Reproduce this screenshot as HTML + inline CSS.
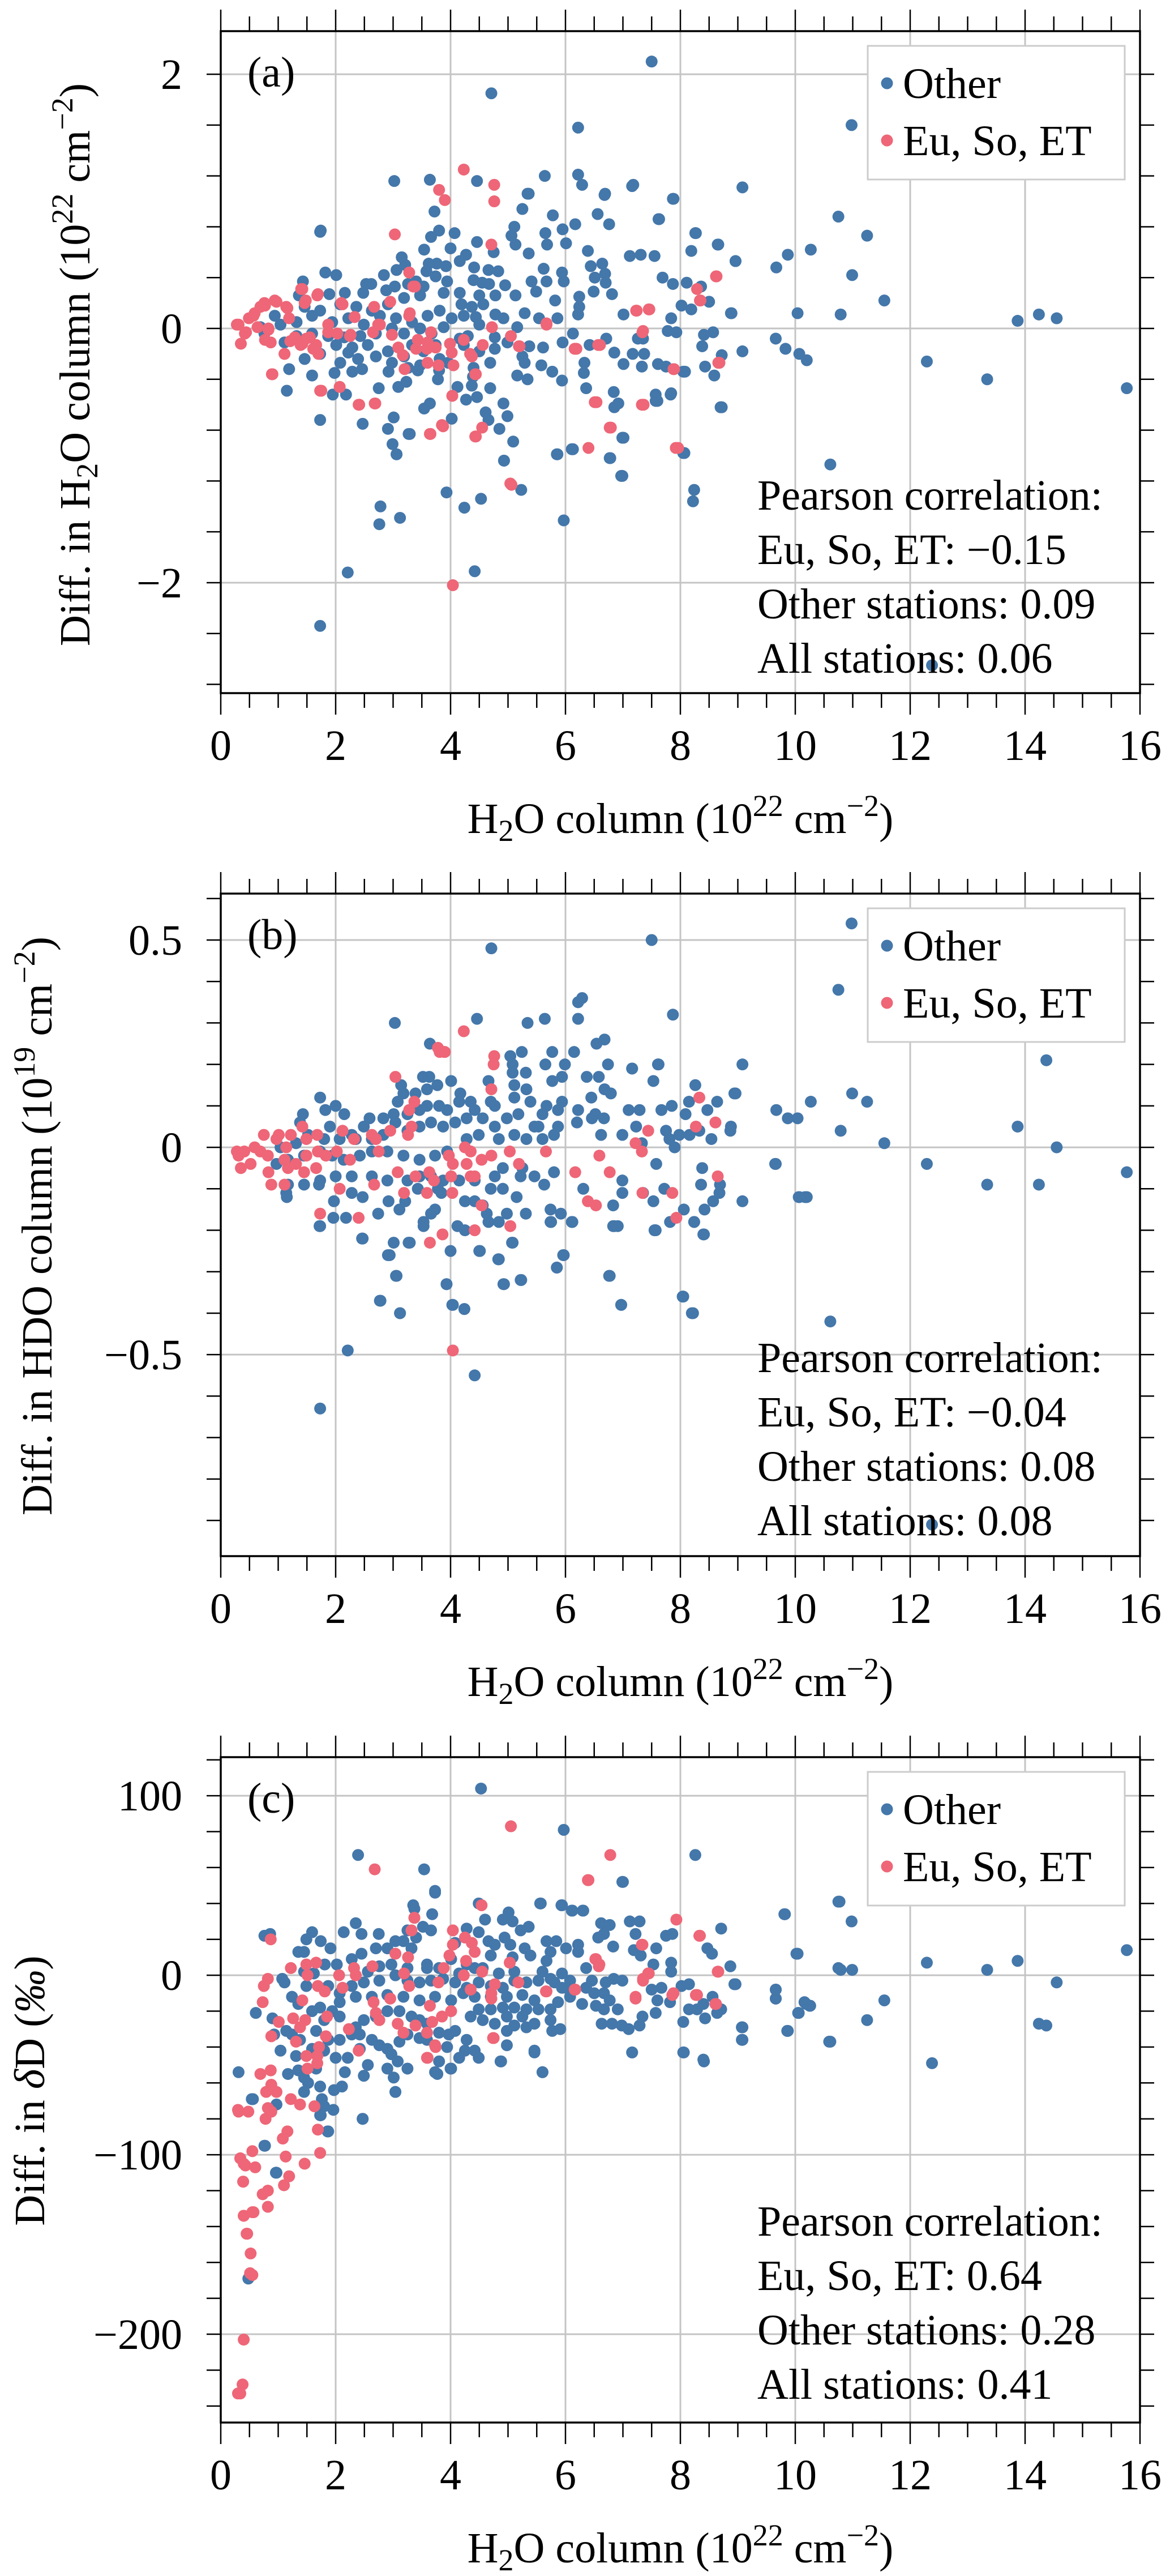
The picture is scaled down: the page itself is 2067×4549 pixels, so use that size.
<!DOCTYPE html>
<html><head><meta charset="utf-8"><title>Station differences vs H2O column</title>
<style>
html,body{margin:0;padding:0;background:#fff;}
svg{display:block;}
text{font-family:"Liberation Serif","DejaVu Serif",serif;fill:#000;}
</style></head>
<body>
<svg id="fig" xmlns="http://www.w3.org/2000/svg" width="2067" height="4549" viewBox="0 0 2067 4549"></svg>
<script>
// ---------- DATA: panel (a) Diff. in H2O column ----------
const aOther = [[7.5,2.10],[4.71,1.85],[6.22,1.58],[10.98,1.60],[9.08,1.11],[10.75,0.88],[11.25,0.73],[10.27,0.62],[9.87,0.58],[9.67,0.48],[10.99,0.42],[11.55,0.22],[10.04,0.12],[10.79,0.11],[13.87,0.06],[14.24,0.11],[14.55,0.08],[12.29,-0.26],[13.34,-0.40],[15.77,-0.47],[10.61,-1.07],[12.38,-2.65],[1.73,-2.34],[2.21,-1.92],[4.42,-1.91],[8.24,-1.27],[8.22,-1.36],[5.97,-1.51],[9.66,-0.08],[9.83,-0.16],[10.07,-0.2],[10.2,-0.25],[8.96,0.53],[8.88,0.12],[9.08,-0.18],[8.7,-0.62],[8.65,0.66],[8.26,0.75],[7.87,1.02],[7.62,0.86],[7.16,1.12],[6.68,1.05],[6.29,1.13],[6.22,1.21],[5.64,1.2],[5.34,1.06],[4.46,1.16],[3.64,1.17],[3.02,1.16],[1.73,0.76],[1.73,-0.72],[3.06,-0.99],[3.27,-0.83],[3.93,-1.29],[4.24,-1.41],[4.53,-1.34],[2.78,-1.4],[2.76,-1.54],[3.12,-1.49],[4.93,-1.04],[5.23,-1.27],[5.85,-0.99],[6.11,-0.95],[6.77,-1.02],[6.97,-1.16],[6.99,-0.86],[8.05,-0.98],[8.05,-0.34],[7.83,-0.52],[7.57,-0.57],
[1.74,0.77],[3.72,0.92],[3.8,0.77],[3.66,0.72],[4.07,0.75],[4.0,0.63],[3.54,0.62],[4.46,0.68],[4.75,0.6],[5.25,0.94],[5.36,1.06],[5.11,0.8],[5.06,0.73],[5.13,0.66],[5.36,0.59],[5.65,0.75],[5.78,0.89],[5.95,0.78],[6.01,0.67],[5.68,0.66],[6.17,0.82],[6.56,0.9],[6.76,0.82],[6.69,1.06],[7.18,1.13],[7.63,0.86],[7.88,1.02],[8.27,0.75],[8.66,0.66],[8.19,0.61],[7.12,0.57],[7.31,0.58],[7.55,0.57],[8.96,0.53],[6.39,0.61],[6.44,0.49],[6.64,0.51],[6.69,0.43],[6.51,0.4],[6.7,0.36],[6.49,0.29],[6.81,0.27],[7.69,0.4],[7.87,0.35],[8.11,0.36],[8.36,0.33],[8.5,0.21],[8.02,0.18],[8.19,0.15],[8.89,0.12],[7.01,0.11],[7.84,0.08],[7.78,-0.02],[7.93,-0.03],[7.26,-0.08],[7.35,-0.08],[8.41,-0.05],[8.57,-0.03],[8.38,-0.14],[8.72,-0.21],[8.43,-0.3],[8.08,-0.34],[8.59,-0.37],[8.72,-0.62],[7.84,-0.51],[7.57,-0.52],[7.6,-0.57],[7.75,-0.3],[7.61,-0.28],[7.33,-0.3],[7.37,-0.2],[7.17,-0.2],[7.01,-0.28],[6.85,-0.19],[6.71,-0.08],[6.42,-0.13],[6.33,-0.27],[6.32,-0.35],[6.36,-0.47],[6.84,-0.5],[6.92,-0.59],[6.85,-0.62],[7.01,-0.86],[6.78,-1.02],[6.99,-1.16],[8.07,-0.98],[6.13,-0.95],[5.86,-0.99],[4.93,-1.04],[5.09,-0.89],[4.85,-0.79],[4.99,-0.69],[4.92,-0.59],[4.66,-0.72],[4.61,-0.66],[4.46,-0.54],[4.69,-0.47],[4.27,-0.56],[4.12,-0.46],[4.37,-0.45],[4.39,-0.38],[4.4,-0.31],[4.02,-0.71],[3.64,-0.59],[3.54,-0.63],[3.29,-0.83],[2.91,-0.79],[3.01,-0.7],[2.99,-0.91],[3.06,-0.99],[2.47,-0.75],[1.15,-0.49],[1.19,-0.32],[1.59,-0.37],[1.95,-0.52],[2.18,-0.52],[1.98,-0.35],[2.29,-0.34],[2.46,-0.32],[2.75,-0.47],[3.09,-0.46],[3.23,-0.42],[2.92,-0.34],[3.43,-0.33],[3.78,-0.4],[3.8,-0.33],[3.96,-0.27],[5.16,-0.37],[5.34,-0.4],[5.58,-0.29],[5.77,-0.34],[5.94,-0.41],[5.95,-0.11],[6.13,-0.04],[5.86,0.08],[5.82,0.22],[5.94,0.44],[5.62,0.47],[5.41,0.37],[5.49,0.29],[5.67,0.37],[5.97,0.37],[6.24,0.25],[6.22,0.11],[6.24,0.17],[5.25,-0.22],[5.29,-0.27],[5.61,-0.15],[5.37,-0.14],[4.99,-0.11],[4.77,-0.07],[4.77,-0.16],[4.69,-0.27],[5.16,0.01],[5.54,0.08],[5.29,0.12],[5.13,0.26],[4.95,0.34],[4.78,0.26],[4.5,0.26],[4.57,0.19],[4.37,0.17],[4.44,0.09],[4.78,0.11],[4.92,0.08],[4.23,0.1],[4.19,0.19],[4.16,0.28],[3.88,0.28],[3.94,0.37],[3.74,0.41],[3.58,0.45],[3.76,0.51],[3.62,0.51],[3.92,0.49],[4.16,0.53],[4.27,0.58],[4.41,0.48],[4.66,0.46],[4.83,0.45],[4.4,0.38],[4.55,0.36],[4.67,0.35],[3.15,0.56],[3.06,0.46],[3.21,0.5],[2.84,0.42],[2.53,0.35],[2.62,0.35],[1.82,0.44],[2.01,0.42],[1.43,0.37],[1.36,0.26],[1.89,0.27],[2.16,0.28],[2.48,0.28],[2.88,0.3],[3.03,0.33],[3.26,0.35],[3.4,0.37],[3.53,0.33],[3.47,0.26],[3.19,0.24],[2.91,0.19],[2.63,0.14],[2.36,0.17],[2.08,0.19],[1.73,0.14],[1.46,0.17],[0.94,0.1],[1.04,0.03],[1.32,0.05],[1.59,0.1],[1.94,0.05],[2.22,0.08],[2.49,0.03],[2.77,0.1],[3.05,0.08],[3.33,0.05],[3.6,0.1],[3.81,0.14],[4.02,0.08],[3.88,0.01],[3.67,-0.04],[3.47,0.0],[3.19,-0.04],[2.98,0.0],[2.7,-0.04],[2.43,-0.06],[2.15,-0.07],[1.87,-0.06],[1.59,-0.04],[1.32,-0.06],[1.11,-0.11],[0.76,-0.04],[0.69,0.01],[1.46,-0.24],[1.73,-0.2],[2.01,-0.13],[2.29,-0.15],[2.56,-0.13],[2.08,-0.27],[2.22,-0.19],[2.39,-0.24],[2.7,-0.22],[2.91,-0.18],[3.19,-0.22],[3.33,-0.13],[3.53,-0.18],[3.74,-0.13],[4.16,-0.08],[4.3,-0.06],[4.5,0.03],[4.23,-0.13],[4.5,-0.18],[3.81,-0.24],[3.47,-0.29],[3.26,-0.31],[2.98,-0.27]];
const aEu = [[4.04,-2.02],[4.23,1.25],[4.76,1.13],[4.76,1.0],[3.8,1.09],[3.9,1.01],[3.03,0.74],[4.71,0.66],[8.62,0.41],[8.29,0.31],[8.34,0.22],[7.23,0.14],[7.45,0.15],[7.34,-0.03],[7.88,-0.32],[8.66,-0.27],[6.16,-0.16],[6.57,-0.13],[6.51,-0.58],[6.77,-0.78],[7.33,-0.6],[7.92,-0.94],[6.4,-0.94],[5.04,-1.22],[4.43,-0.85],[4.55,-0.78],[4.43,-0.36],[4.03,-0.53],[3.85,-0.76],[3.64,-0.83],[2.68,-0.59],[2.41,-0.6],[2.07,-0.46],[1.73,-0.49],[0.9,-0.36],[1.11,-0.2],[5.67,0.04],[4.72,0.01],[5.19,-0.14],[3.17,-0.21],[3.35,0.33],[3.28,0.44],[2.95,0.21],[2.1,0.2],[2.33,0.09],[2.74,0.03],[3.28,0.1],[1.69,0.27],[1.4,0.31],[1.48,0.22],[0.94,0.22],[0.77,0.18],[1.16,0.16],
[0.31,0.03],[0.35,-0.12],[0.44,-0.03],[0.57,0.1],[0.64,0.01],[0.77,-0.09],[0.83,-0.01],[1.29,-0.07],[1.42,-0.12],[1.55,-0.07],[1.61,-0.16],[1.87,-0.03],[2.26,-0.05],[2.65,-0.03],[2.98,-0.05],[3.43,-0.09],[3.59,-0.16],[3.99,-0.12],[4.23,-0.09],[4.34,-0.2],[3.79,-0.29],[3.66,-0.03],
[0.28,0.03],[0.42,-0.04],[0.49,0.08],[0.59,0.12],[0.69,0.17],[0.76,0.2],[0.97,0.21],[1.14,0.17],[1.19,0.08],[0.83,0.0],[0.87,-0.11],[1.11,-0.2],[0.89,-0.36],[1.21,-0.1],[1.39,-0.13],[1.49,-0.08],[1.46,0.2],[1.68,0.26],[1.42,0.31],[1.66,-0.13],[1.7,-0.2],[1.87,0.03],[2.12,0.19],[2.03,-0.04],[2.25,-0.06],[1.75,-0.49],[2.07,-0.46],[2.4,-0.6],[2.69,-0.59],[2.33,0.09],[2.67,0.17],[2.77,0.03],[3.29,0.12],[3.38,0.33],[3.09,-0.15],[3.4,-0.16],[3.6,-0.11],[3.74,-0.15],[4.02,-0.19],[3.6,-0.27],[3.2,-0.32],[4.05,-0.29],[4.37,-0.22],[4.56,-0.13],[4.44,-0.36],[4.03,-0.53],[3.87,-0.77],[3.65,-0.83],[4.44,-0.85],[5.05,-0.06],[5.2,-0.14],[5.67,0.03],[6.19,-0.16],[6.6,-0.13],[6.54,-0.58],[6.79,-0.78],[7.36,-0.6],[7.35,-0.02],[7.24,0.14],[7.46,0.15],[5.06,-1.23],[7.89,-0.32],[7.96,-0.94],[8.35,0.22],[8.63,0.41],[8.68,-0.27]];
const aTicks = [-2, 0, 2];
const aStats = ["Pearson correlation:", "Eu, So, ET: \u22120.15", "Other stations: 0.09", "All stations: 0.06"];

// ---------- DATA: panel (b) Diff. in HDO column ----------
const bOther = [[4.71,0.48],[7.5,0.5],[10.98,0.54],[10.75,0.38],[7.87,0.32],[6.22,0.31],[6.22,0.35],[6.29,0.36],[5.64,0.31],[5.34,0.3],[4.46,0.31],[3.03,0.3],[3.64,0.25],[6.68,0.26],[6.54,0.25],[9.08,0.2],[7.62,0.2],[7.16,0.19],[14.37,0.21],[13.87,0.05],[14.55,0.0],[11.55,0.01],[10.99,0.13],[11.25,0.11],[10.27,0.11],[9.87,0.07],[10.04,0.07],[9.67,0.09],[10.79,0.04],[8.96,0.13],[8.88,0.05],[9.66,-0.04],[10.07,-0.12],[10.2,-0.12],[9.08,-0.13],[12.29,-0.04],[13.34,-0.09],[14.24,-0.09],[15.77,-0.06],[10.61,-0.42],[12.38,-0.91],[1.73,-0.63],[2.21,-0.49],[4.42,-0.55],[3.93,-0.33],[4.24,-0.39],[4.03,-0.38],[4.84,-0.27],[4.93,-0.33],[5.23,-0.32],[3.12,-0.4],[2.78,-0.37],[3.06,-0.31],[2.91,-0.26],[3.27,-0.23],[5.97,-0.26],[5.85,-0.29],[6.77,-0.31],[6.97,-0.38],[8.05,-0.36],[8.22,-0.4],[8.24,-0.18],[8.41,-0.21],[7.57,-0.2],[6.85,-0.19],[6.11,-0.18],[5.75,-0.18],[5.07,-0.23],[4.51,-0.25],[3.53,-0.18],[2.46,-0.22],[1.73,-0.19],[1.14,-0.11],
[1.73,0.12],[1.82,0.09],[2.0,0.1],[2.15,0.08],[1.43,0.08],[1.38,0.06],[1.9,0.05],[2.28,0.03],[2.49,0.05],[2.59,0.07],[2.83,0.07],[3.01,0.08],[3.08,0.11],[3.14,0.15],[3.18,0.13],[3.52,0.17],[3.63,0.17],[3.77,0.15],[4.01,0.16],[4.17,0.13],[3.59,0.14],[3.39,0.13],[3.04,0.06],[3.25,0.08],[3.46,0.09],[3.59,0.1],[3.8,0.1],[3.94,0.09],[4.15,0.11],[4.35,0.11],[4.42,0.09],[4.56,0.07],[4.28,0.07],[4.08,0.06],[3.87,0.05],[3.66,0.06],[3.46,0.05],[3.25,0.04],[2.83,0.03],[2.63,0.02],[2.35,0.02],[2.07,0.02],[1.8,0.02],[1.52,0.03],[1.31,0.01],[1.04,0.0],[0.97,-0.04],[1.17,-0.03],[1.45,-0.02],[1.73,-0.01],[1.94,-0.02],[2.14,-0.03],[2.42,-0.02],[2.63,-0.01],[2.9,-0.01],[3.18,-0.02],[3.46,-0.03],[3.73,-0.02],[3.94,-0.01],[4.28,0.02],[4.49,0.03],[4.77,0.05],[4.98,0.07],[5.18,0.08],[4.84,0.02],[5.11,0.03],[5.32,0.02],[5.6,0.02],[5.8,0.03],[5.87,0.05],[5.53,0.05],[5.46,0.05],[5.6,0.08],[5.87,0.09],[5.94,0.11],[5.67,0.1],[5.39,0.11],[5.32,0.14],[5.11,0.15],[5.11,0.12],[4.7,0.11],[4.77,0.1],[4.66,0.16],[5.08,0.18],[5.31,0.18],[5.08,0.2],[5.04,0.22],[5.24,0.23],[5.77,0.23],[6.15,0.23],[5.65,0.2],[5.99,0.2],[5.77,0.16],[5.94,0.17],[6.37,0.17],[6.58,0.17],[6.74,0.2],[7.16,0.19],[7.61,0.2],[7.53,0.16],[8.26,0.15],[6.68,0.14],[6.79,0.13],[6.45,0.12],[6.22,0.09],[6.52,0.08],[6.67,0.07],[6.46,0.07],[6.2,0.06],[6.62,0.03],[7.1,0.09],[7.29,0.09],[7.67,0.09],[7.85,0.1],[8.09,0.08],[8.15,0.11],[8.64,0.11],[8.47,0.09],[8.94,0.13],[8.87,0.04],[8.54,0.02],[8.33,0.04],[8.16,0.03],[7.98,0.03],[7.75,0.04],[7.9,0.0],[7.81,0.02],[7.23,0.05],[6.99,0.03],[7.33,0.01],[7.58,-0.04],[8.38,-0.05],[8.36,-0.09],[8.69,-0.09],[8.68,-0.11],[8.57,-0.13],[8.42,-0.15],[8.06,-0.15],[7.82,-0.18],[8.24,-0.18],[8.4,-0.21],[7.55,-0.2],[7.72,-0.1],[7.53,-0.13],[7.35,-0.11],[6.99,-0.08],[6.99,-0.11],[6.83,-0.14],[6.83,-0.19],[6.91,-0.19],[6.97,-0.38],[6.76,-0.31],[8.04,-0.36],[8.2,-0.4],[9.65,-0.04],[10.06,-0.12],[10.17,-0.12],[6.31,-0.1],[6.12,-0.18],[5.92,-0.16],[5.74,-0.15],[5.74,-0.18],[5.96,-0.26],[5.85,-0.29],[5.31,-0.16],[5.15,-0.12],[4.98,-0.16],[5.08,-0.23],[4.84,-0.18],[4.66,-0.18],[4.63,-0.16],[4.56,-0.14],[4.42,-0.13],[4.25,-0.13],[4.7,-0.1],[4.91,-0.1],[5.22,-0.07],[5.46,-0.07],[5.63,-0.09],[5.8,-0.06],[5.25,-0.05],[4.91,-0.05],[4.77,-0.07],[4.42,-0.08],[4.15,-0.08],[3.87,-0.08],[3.66,-0.07],[3.46,-0.07],[3.25,-0.08],[2.9,-0.08],[2.63,-0.07],[2.28,-0.07],[2.0,-0.07],[1.73,-0.08],[1.45,-0.09],[1.17,-0.09],[1.15,-0.12],[1.71,-0.09],[1.97,-0.13],[1.96,-0.17],[1.72,-0.19],[2.18,-0.17],[2.28,-0.11],[2.47,-0.12],[2.74,-0.16],[2.92,-0.13],[3.11,-0.15],[3.21,-0.13],[3.43,-0.1],[3.78,-0.1],[3.84,-0.11],[3.73,-0.15],[3.66,-0.16],[3.53,-0.19],[4.12,-0.19],[4.25,-0.2],[2.47,-0.22],[3.01,-0.23],[3.29,-0.23],[2.94,-0.26],[3.05,-0.31],[2.77,-0.37],[3.12,-0.4],[3.93,-0.33],[4.04,-0.38],[4.24,-0.39],[4.0,-0.25],[4.5,-0.25],[4.83,-0.27],[4.92,-0.33],[5.22,-0.32]];
const bEu = [[4.04,-0.49],[4.23,0.28],[3.78,0.24],[3.89,0.23],[0.28,-0.01],[0.31,-0.02],[0.35,-0.05],[0.41,-0.01],[0.52,-0.04],[0.59,0.0],[0.69,-0.01],[0.75,0.03],[0.82,-0.02],[0.83,-0.06],[0.88,-0.09],[0.97,0.02],[1.01,0.03],[1.11,-0.03],[1.11,-0.09],[1.14,0.0],[1.22,0.03],[1.17,-0.05],[1.31,-0.04],[1.42,0.05],[1.45,-0.06],[1.49,0.02],[1.49,-0.02],[1.66,-0.05],[1.68,0.03],[1.69,-0.01],[1.83,-0.02],[2.02,-0.01],[2.07,-0.1],[2.12,0.04],[2.25,-0.03],[2.32,0.02],[2.63,0.03],[2.7,0.02],[2.67,-0.09],[2.75,-0.01],[2.95,0.04],[3.04,0.17],[3.08,-0.06],[3.19,-0.11],[3.26,0.03],[3.28,0.09],[3.32,0.05],[3.37,0.11],[3.39,-0.07],[3.59,-0.11],[3.63,-0.06],[3.71,-0.08],[3.64,-0.23],[3.86,-0.21],[3.97,-0.02],[4.01,-0.07],[4.04,-0.04],[4.03,-0.11],[4.25,0.0],[4.35,-0.01],[4.28,-0.04],[4.35,-0.07],[4.42,-0.07],[4.42,-0.2],[4.54,-0.03],[4.54,-0.14],[4.71,-0.02],[4.71,0.14],[4.76,0.22],[4.75,0.2],[3.81,0.23],[3.9,0.23],[5.03,-0.01],[5.04,-0.19],[1.73,-0.16],[2.4,-0.17],[5.19,-0.04],[5.66,-0.01],[6.17,-0.06],[6.39,-0.13],[6.53,-0.14],[6.59,-0.02],[6.77,-0.06],[7.22,0.01],[7.33,-0.01],[7.44,0.04],[7.34,-0.11],[7.86,-0.11],[7.93,-0.17],[8.27,0.05],[8.33,0.12],[8.61,0.06],[8.65,-0.07]];
const bTicks = [-0.5, 0, 0.5];
const bStats = ["Pearson correlation:", "Eu, So, ET: \u22120.04", "Other stations: 0.08", "All stations: 0.08"];

// ---------- DATA: panel (c) Diff. in deltaD ----------
const cOther = [[4.53,104],[5.97,81],[8.26,67],[2.39,67],[3.54,59],[7.0,52],[3.73,46],[3.35,39],[4.49,40],[5.57,40],[5.94,39],[6.11,36],[6.31,36],[10.77,41],[9.82,34],[10.98,30],[15.77,14],[10.04,12],[12.29,7],[13.87,8],[10.79,3],[10.99,3],[13.34,3],[14.55,-4],[8.96,-5],[9.66,-8],[9.66,-13],[10.05,-21],[10.16,-15],[10.25,-17],[11.55,-14],[11.25,-25],[14.24,-27],[14.37,-28],[9.08,-29],[9.08,-36],[9.87,-31],[10.61,-37],[12.38,-49],[8.06,-43],[8.41,-48],[7.16,-43],[5.6,-54],[5.46,-43],[4.88,-48],[3.77,-55],[4.0,-52],[3.04,-65],[2.47,-80],[1.86,-87],[1.73,-78],[0.77,-95],[0.96,-110],[0.48,-169],[0.31,-54],[0.56,-69],
[0.76,22],[0.86,23],[1.07,-2],[1.11,-4],[1.24,-12],[1.35,-16],[0.61,-21],[0.9,-24],[1.14,-31],[0.93,-33],[1.04,-42],[1.31,-45],[1.17,-55],[1.35,-53],[1.45,-57],[1.45,-65],[1.52,-60],[1.73,-62],[1.76,-69],[1.8,-73],[1.74,-78],[1.96,-75],[1.87,-87],[0.76,-95],[0.97,-110],[0.54,-69],[0.97,-72],[2.47,-80],[2.11,-62],[1.97,-64],[1.35,13],[1.45,13],[1.49,20],[1.59,24],[1.74,19],[1.91,15],[2.14,24],[2.35,29],[2.45,23],[2.75,23],[1.81,6],[2.02,6],[1.45,2],[1.62,1],[1.49,-6],[1.87,-6],[2.07,-10],[2.28,9],[2.45,12],[2.7,15],[2.9,15],[3.04,19],[3.18,19],[3.32,15],[3.37,37],[3.73,47],[3.68,34],[3.52,27],[3.66,25],[3.25,25],[3.4,21],[3.59,6],[3.8,4],[4.01,9],[4.28,6],[4.42,4],[4.08,18],[4.28,26],[4.49,24],[4.6,31],[4.91,31],[5.01,35],[5.08,30],[5.22,25],[5.36,27],[5.56,40],[5.93,39],[6.12,36],[6.3,36],[6.99,52],[4.94,21],[5.04,17],[4.66,19],[4.77,17],[4.7,11],[5.08,10],[5.29,15],[5.39,11],[5.67,19],[5.84,19],[6.01,15],[6.22,17],[5.74,13],[5.67,8],[5.6,2],[5.94,1],[6.22,13],[6.36,4],[6.62,29],[6.77,28],[6.67,23],[6.57,21],[6.83,16],[7.12,30],[7.29,30],[7.22,23],[7.75,22],[7.86,23],[8.71,26],[8.47,15],[8.55,12],[7.19,14],[7.31,11],[7.58,15],[7.53,6],[7.84,7],[7.84,2],[8.87,5],[6.46,-3],[6.7,-4],[6.84,-2],[6.99,-3],[6.5,-10],[6.67,-10],[6.77,-14],[7.5,-8],[7.67,-7],[8.02,-6],[8.15,-5],[7.82,-15],[7.6,-14],[8.56,-12],[8.94,-5],[6.53,-17],[6.67,-19],[6.91,-19],[7.34,-23],[7.57,-21],[8.15,-19],[8.29,-19],[8.4,-16],[8.64,-21],[8.71,-19],[8.05,-26],[8.43,-24],[6.63,-27],[6.81,-27],[6.98,-28],[7.1,-30],[7.29,-28],[7.16,-43],[8.05,-43],[8.4,-47],[9.07,-29],[9.07,-36],[9.86,-31],[9.66,-8],[9.66,-13],[10.06,-21],[10.19,-16],[10.26,-17],[10.59,-37],[9.81,34],[10.02,12],[10.75,4],[10.75,41],
[2.28,-6],[2.49,-4],[2.76,-3],[3.04,0],[3.25,-3],[3.46,-4],[3.66,-3],[3.87,-2],[4.08,-4],[4.28,-7],[4.49,-4],[4.7,-6],[4.91,-7],[5.11,-3],[5.32,-4],[5.53,-3],[5.81,-4],[6.01,-7],[6.08,-12],[6.29,-16],[5.87,-15],[5.74,-19],[5.53,-19],[5.32,-19],[5.11,-18],[4.91,-18],[4.7,-19],[4.49,-19],[4.35,-23],[4.56,-25],[4.77,-27],[4.98,-31],[5.11,-28],[5.32,-29],[5.46,-27],[5.74,-25],[5.91,-30],[5.77,-31],[5.46,-42],[5.6,-54],[4.87,-48],[4.98,-39],[4.49,-46],[4.42,-42],[4.25,-42],[4.28,-36],[4.15,-46],[4.01,-52],[3.8,-48],[3.73,-54],[3.94,-40],[3.97,-33],[4.08,-31],[3.8,-32],[3.59,-27],[3.46,-25],[3.32,-23],[3.11,-20],[2.9,-20],[2.7,-23],[2.49,-25],[2.35,-29],[2.28,-33],[2.07,-36],[1.87,-36],[1.66,-31],[1.59,-20],[1.73,-18],[1.94,-20],[2.07,-23],[2.42,-33],[2.63,-36],[2.76,-39],[2.9,-41],[2.97,-44],[3.11,-37],[3.25,-33],[3.46,-35],[3.59,-36],[3.08,-48],[3.25,-52],[2.9,-52],[3.01,-57],[3.04,-65],[2.56,-50],[2.49,-56],[2.16,-54],[2.0,-46],[2.21,-46],[2.42,-41],[1.8,-42],[1.66,-52],[1.59,-41],[1.38,-36],[1.24,-33],[1.8,-25],[2.07,-15],[2.35,-12],[2.63,-12],[2.9,-11],[3.18,-12],[3.46,-14],[3.73,-12],[4.01,-14],[4.22,-10],[4.42,-12],[4.7,-12],[4.98,-12],[5.25,-11],[5.46,-14],[3.59,4],[3.25,4],[2.97,6],[2.76,5],[2.56,2],[4.15,1],[4.56,4],[4.84,1],[5.11,2],[5.74,-2],[5.94,-7],[6.08,-3],[6.36,-7],[4.98,-23],[5.25,-23]];
const cEu = [[5.05,83],[6.78,67],[2.68,59],[6.4,53],[7.93,31],[8.34,22],[3.37,32],[4.54,39],[7.33,17],[8.66,2],[8.62,-16],[8.29,-11],[7.22,-12],[7.88,-10],[7.45,1],[7.35,-2],[6.16,-8],[6.52,9],[6.59,6],[5.67,-9],[4.74,-35],[3.74,-40],[3.6,-46],[0.31,-76],[0.34,-102],[0.4,-105],[0.39,-115],[0.4,-134],[0.57,-132],[0.46,-144],[0.52,-155],[0.51,-166],[0.55,-167],[0.4,-203],[0.38,-228],[0.34,-233],[0.3,-233],
[0.87,20],[0.75,-6],[0.82,-2],[0.73,-15],[1.22,4],[1.49,6],[1.66,7],[1.51,0],[1.69,-6],[1.81,-9],[1.42,-14],[2.06,0],[2.12,-7],[2.32,4],[2.35,0],[2.64,5],[3.04,12],[3.26,10],[3.32,25],[3.37,32],[2.66,-15],[2.95,-13],[3.28,-6],[3.19,1],[2.7,-21],[2.76,-25],[3.08,-27],[3.18,-32],[3.39,-28],[3.59,-32],[3.68,-26],[3.64,-17],[3.85,-23],[4.01,-20],[3.73,-39],[3.59,-46],[3.79,-4],[3.88,4],[3.98,11],[4.04,25],[4.04,17],[4.23,0],[4.27,8],[4.25,21],[4.37,18],[4.42,13],[4.35,-8],[4.55,2],[4.71,-10],[4.71,-13],[4.77,-5],[4.75,-35],[5.03,7],[5.18,-4],[5.66,-9],[6.39,53],[6.17,-8],[6.53,9],[6.58,5],[7.34,17],[7.44,1],[7.35,-3],[7.22,-13],[7.86,-11],[8.27,-11],[8.33,22],[8.61,-16],[8.65,2],
[0.88,-34],[1.01,-26],[1.26,-24],[1.47,-25],[1.38,-29],[1.31,-37],[1.85,-23],[2.23,-30],[1.83,-34],[1.71,-40],[1.49,-45],[1.68,-45],[1.68,-49],[1.51,-52],[2.4,-42],[0.69,-55],[0.87,-53],[0.88,-61],[0.79,-65],[0.97,-65],[1.22,-69],[1.38,-72],[1.63,-73],[0.3,-75],[0.48,-76],[0.82,-74],[0.88,-76],[0.78,-80],[1.69,-86],[1.16,-87],[1.08,-91],[0.55,-98],[0.34,-102],[0.43,-106],[0.6,-107],[1.13,-101],[1.46,-105],[1.73,-99],[1.19,-112],[0.39,-115],[1.1,-117],[0.73,-122],[0.82,-120],[0.82,-129],[0.4,-134],[0.55,-132],[0.45,-144]];
const cTicks = [-200, -100, 0, 100];
const cStats = ["Pearson correlation:", "Eu, So, ET: 0.64", "Other stations: 0.28", "All stations: 0.41"];

const xTicks = [0, 2, 4, 6, 8, 10, 12, 14, 16];
const legendLabels = ["Other", "Eu, So, ET"];

// ---------- LAYOUT ----------
const NS = "http://www.w3.org/2000/svg";
const svg = document.getElementById("fig");
const PL = 390, PR = 2014, XMAX = 16;
const BLUE = "#4477aa", RED = "#ee6677", GRID = "#c4c4c4";
const FS = 76;
const R = 10.5;

function el(tag, attrs, parent) {
  const e = document.createElementNS(NS, tag);
  for (const k in attrs) e.setAttribute(k, attrs[k]);
  (parent || svg).appendChild(e);
  return e;
}
function xs(v) { return PL + (v / XMAX) * (PR - PL); }

function fmt(v) {
  const s = String(v);
  return v < 0 ? "\u2212" + s.slice(1) : s;
}

function panel(cfg) {
  const g = el("g", {});
  
  
  const top = cfg.top, bot = cfg.bottom;
  const ys = v => top + (cfg.yMax - v) / (cfg.yMax - cfg.yMin) * (bot - top);

  xTicks.forEach(t => {
    if (t === 0 || t === XMAX) return;
    const l = el("line", {x1: xs(t), x2: xs(t), y1: top, y2: bot, stroke: GRID, "stroke-width": 3}, g);
    
    
  });
  cfg.ticks.forEach(t => {
    const l = el("line", {x1: PL, x2: PR, y1: ys(t), y2: ys(t), stroke: GRID, "stroke-width": 3}, g);
    
    
  });

  for (let i = 0; i <= XMAX * 2; i++) {
    const v = i / 2, major = (i % 4 === 0);
    const len = major ? 38 : 26;
    const t1 = el("line", {x1: xs(v), x2: xs(v), y1: bot, y2: bot + len, stroke: "#000", "stroke-width": 2.5}, g);
    
    
    const t2 = el("line", {x1: xs(v), x2: xs(v), y1: top, y2: top - len, stroke: "#000", "stroke-width": 2.5}, g);
    
    
  }
  const n0 = Math.ceil(cfg.yMin / cfg.minor - 1e-9), n1 = Math.floor(cfg.yMax / cfg.minor + 1e-9);
  for (let i = n0; i <= n1; i++) {
    const y = ys(i * cfg.minor);
    const t1 = el("line", {x1: PL - 25, x2: PL, y1: y, y2: y, stroke: "#000", "stroke-width": 2.5}, g);
    
    
    const t2 = el("line", {x1: PR, x2: PR + 25, y1: y, y2: y, stroke: "#000", "stroke-width": 2.5}, g);
    
    
  }

  xTicks.forEach(t => {
    const tx = el("text", {x: xs(t), y: bot + 118, "font-size": FS, "text-anchor": "middle"}, g);
    tx.textContent = String(t);
    
    
  });
  cfg.ticks.forEach(t => {
    const tx = el("text", {x: 322, y: ys(t) + 26, "font-size": FS, "text-anchor": "end"}, g);
    tx.textContent = fmt(t);
    
    
  });

  cfg.other.forEach(p => {
    const c = el("ellipse", {cx: xs(p[0]), cy: ys(p[1]), rx: R, ry: R, fill: BLUE}, g);
    
    
  });
  cfg.eu.forEach(p => {
    const c = el("ellipse", {cx: xs(p[0]), cy: ys(p[1]), rx: R, ry: R, fill: RED}, g);
    
    
  });

  const fr = el("rect", {x: PL, y: top, width: PR - PL, height: bot - top, fill: "none", stroke: "#000", "stroke-width": 3.5}, g);
  
  

  const pl = el("text", {x: 437, y: top + 98, "font-size": FS}, g);
  pl.textContent = cfg.label;
  
  

  const lg = el("g", {}, g);
  
  
  const lb = el("rect", {x: 1533, y: top + 26, width: 454, height: 236, fill: "#fff", stroke: "#cccccc", "stroke-width": 3}, lg);
  
  
  [[legendLabels[0], BLUE, 92], [legendLabels[1], RED, 193]].forEach(([t, col, dy]) => {
    const m = el("ellipse", {cx: 1567, cy: top + dy, rx: R, ry: R, fill: col}, lg);
    
    
    const tx = el("text", {x: 1595, y: top + dy + 26, "font-size": FS}, lg);
    tx.textContent = t;
    
    
  });

  cfg.stats.forEach((s, i) => {
    const tx = el("text", {x: 1338, y: top + 845 + i * 96, "font-size": FS}, g);
    tx.textContent = s;
    
    
  });

  const xt = el("text", {x: (PL + PR) / 2, y: bot + 247, "font-size": FS, "text-anchor": "middle"}, g);
  xt.innerHTML = 'H<tspan font-size="54" dy="14">2</tspan><tspan dy="-14">O column (10</tspan><tspan font-size="54" dy="-30">22</tspan><tspan dy="30"> cm</tspan><tspan font-size="54" dy="-30">\u22122</tspan><tspan dy="30">)</tspan>';
  
  

  const yt = el("text", {x: 0, y: 0, "font-size": FS, "text-anchor": "middle",
    transform: `translate(${cfg.ytX},${cfg.ytY}) rotate(-90)`}, g);
  yt.innerHTML = cfg.ytitle;
  
  
}

panel({name: "panel-a-h2o", label: "(a)", top: 55, bottom: 1224, yMax: 2.339, yMin: -2.869, minor: 0.4,
  ticks: aTicks, other: aOther, eu: aEu, stats: aStats, ytX: 158, ytY: 644,
  ytitle: 'Diff. in H<tspan font-size="54" dy="14">2</tspan><tspan dy="-14">O column (10</tspan><tspan font-size="54" dy="-30">22</tspan><tspan dy="30"> cm</tspan><tspan font-size="54" dy="-30">\u22122</tspan><tspan dy="30">)</tspan>'});
panel({name: "panel-b-hdo", label: "(b)", top: 1578, bottom: 2748, yMax: 0.612, yMin: -0.986, minor: 0.1,
  ticks: bTicks, other: bOther, eu: bEu, stats: bStats, ytX: 91, ytY: 2165,
  ytitle: 'Diff. in HDO column (10<tspan font-size="54" dy="-30">19</tspan><tspan dy="30"> cm</tspan><tspan font-size="54" dy="-30">\u22122</tspan><tspan dy="30">)</tspan>'});
panel({name: "panel-c-deltad", label: "(c)", top: 3103, bottom: 4278, yMax: 121.5, yMin: -249.2, minor: 20,
  ticks: cTicks, other: cOther, eu: cEu, stats: cStats, ytX: 78, ytY: 3692,
  ytitle: 'Diff. in <tspan font-style="italic">\u03b4</tspan>D (<tspan font-style="italic">\u2030</tspan>)'});
</script>
</body></html>
